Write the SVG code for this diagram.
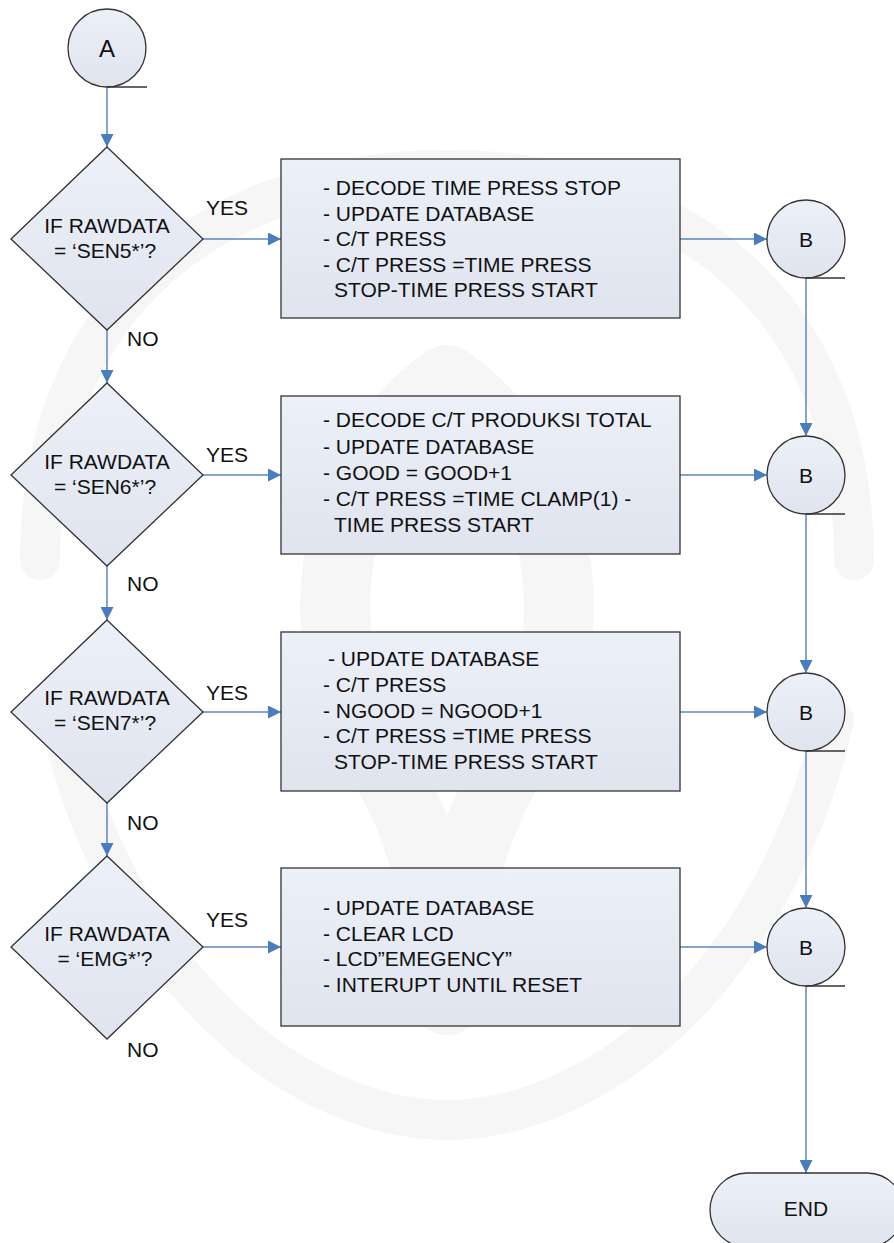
<svg xmlns="http://www.w3.org/2000/svg" width="894" height="1243" viewBox="0 0 894 1243">
  <defs>
    <linearGradient id="fillShape" x1="0" y1="0" x2="0" y2="1">
      <stop offset="0" stop-color="#ebf0f9"/>
      <stop offset="1" stop-color="#dfe4ee"/>
    </linearGradient>
    <marker id="arrowHead" viewBox="0 0 10 10" refX="10" refY="5" markerWidth="13" markerHeight="13" markerUnits="userSpaceOnUse" orient="auto">
      <path d="M0,0 L10,5 L0,10 Z" fill="#4a7cc0"/>
    </marker>
    <style>
      .shape { fill: url(#fillShape); stroke: #333; stroke-width: 1.3; }
      .tail { stroke: #333; stroke-width: 1.3; fill: none; }
      .flow { stroke: #5b87c5; stroke-width: 1.5; fill: none; marker-end: url(#arrowHead); }
      text { font-family: "Liberation Sans", Arial, sans-serif; font-size: 21px; fill: #111; }
      .mid { text-anchor: middle; }
      .big { font-size: 24px; }
      .wm { fill: none; stroke: #f6f6f6; stroke-linecap: round; }
    </style>
  </defs>

  <rect x="0" y="0" width="894" height="1243" fill="#ffffff"/>

  <!-- faint background emblem -->
  <g id="emblem">
    <path class="wm" stroke-width="40" d="M40,560 C40,300 220,170 447,170 C674,170 854,300 854,560"/>
    <path class="wm" stroke-width="40" d="M60,720 C120,980 300,1120 447,1120 C594,1120 774,980 834,720"/>
    <path class="wm" stroke-width="70" d="M447,380 C330,460 300,640 380,760 C420,820 440,900 447,1000"/>
    <path class="wm" stroke-width="70" d="M447,380 C564,460 594,640 514,760 C474,820 454,900 447,1000"/>
  </g>

  <!-- connectors -->
  <g id="connectors">
    <!-- main decision spine -->
    <line class="flow" x1="107" y1="87" x2="107" y2="147"/>
    <line class="flow" x1="107" y1="330" x2="107" y2="383"/>
    <line class="flow" x1="107" y1="566" x2="107" y2="620"/>
    <line class="flow" x1="107" y1="803" x2="107" y2="856"/>
    <!-- YES branches into the process boxes -->
    <line class="flow" x1="203" y1="239" x2="281" y2="239"/>
    <line class="flow" x1="203" y1="475" x2="281" y2="475"/>
    <line class="flow" x1="203" y1="712" x2="281" y2="712"/>
    <line class="flow" x1="203" y1="947" x2="281" y2="947"/>
    <!-- process boxes to connector B -->
    <line class="flow" x1="680" y1="239" x2="767" y2="239"/>
    <line class="flow" x1="680" y1="475" x2="767" y2="475"/>
    <line class="flow" x1="680" y1="712" x2="767" y2="712"/>
    <line class="flow" x1="680" y1="947" x2="767" y2="947"/>
    <!-- B chain down to END -->
    <line class="flow" x1="806" y1="278" x2="806" y2="436"/>
    <line class="flow" x1="806" y1="514" x2="806" y2="673"/>
    <line class="flow" x1="806" y1="751" x2="806" y2="908"/>
    <line class="flow" x1="806" y1="986" x2="806" y2="1173"/>
  </g>

  <!-- branch labels -->
  <g id="labels">
    <text x="206" y="215">YES</text>
    <text x="206" y="462">YES</text>
    <text x="206" y="700">YES</text>
    <text x="206" y="927">YES</text>
    <text x="127" y="346">NO</text>
    <text x="127" y="591">NO</text>
    <text x="127" y="830">NO</text>
    <text x="127" y="1057">NO</text>
  </g>

  <g id="startA">
    <circle class="shape" cx="107" cy="48" r="39"/>
    <line class="tail" x1="107" y1="87" x2="147" y2="87"/>
    <text class="mid big" x="107" y="57">A</text>
  </g>

  <g id="decision1">
    <polygon class="shape" points="107,147 203,239 107,330 11,239"/>
    <text class="mid" x="107" y="233">IF RAWDATA</text>
    <text class="mid" x="105" y="258">= ‘SEN5*’?</text>
  </g>
  <g id="decision2">
    <polygon class="shape" points="107,383 203,475 107,566 11,475"/>
    <text class="mid" x="107" y="469">IF RAWDATA</text>
    <text class="mid" x="105" y="494">= ‘SEN6*’?</text>
  </g>
  <g id="decision3">
    <polygon class="shape" points="107,620 203,712 107,803 11,712"/>
    <text class="mid" x="107" y="705">IF RAWDATA</text>
    <text class="mid" x="105" y="730">= ‘SEN7*’?</text>
  </g>
  <g id="decision4">
    <polygon class="shape" points="107,856 203,947 107,1039 11,947"/>
    <text class="mid" x="107" y="941">IF RAWDATA</text>
    <text class="mid" x="105" y="966">= ‘EMG*’?</text>
  </g>

  <g id="process1">
    <rect class="shape" x="281" y="159" width="399" height="159"/>
    <text x="323" y="195">- DECODE TIME PRESS STOP</text>
    <text x="323" y="220.5">- UPDATE DATABASE</text>
    <text x="323" y="246">- C/T PRESS</text>
    <text x="323" y="271.5">- C/T PRESS =TIME PRESS</text>
    <text x="334" y="297">STOP-TIME PRESS START</text>
  </g>
  <g id="process2">
    <rect class="shape" x="281" y="396" width="399" height="158"/>
    <text x="323" y="427">- DECODE C/T PRODUKSI TOTAL</text>
    <text x="323" y="453.5">- UPDATE DATABASE</text>
    <text x="323" y="480">- GOOD = GOOD+1</text>
    <text x="323" y="506">- C/T PRESS =TIME CLAMP(1) -</text>
    <text x="334" y="532">TIME PRESS START</text>
  </g>
  <g id="process3">
    <rect class="shape" x="281" y="632" width="399" height="159"/>
    <text x="328" y="666">- UPDATE DATABASE</text>
    <text x="323" y="692">- C/T PRESS</text>
    <text x="323" y="717.5">- NGOOD = NGOOD+1</text>
    <text x="323" y="743">- C/T PRESS =TIME PRESS</text>
    <text x="334" y="769">STOP-TIME PRESS START</text>
  </g>
  <g id="process4">
    <rect class="shape" x="281" y="868" width="399" height="158"/>
    <text x="323" y="915">- UPDATE DATABASE</text>
    <text x="323" y="940.5">- CLEAR LCD</text>
    <text x="323" y="966">- LCD”EMEGENCY”</text>
    <text x="323" y="991.5">- INTERUPT UNTIL RESET</text>
  </g>

  <g id="connectorB1">
    <circle class="shape" cx="806" cy="239" r="39"/>
    <line class="tail" x1="806" y1="278" x2="845" y2="278"/>
    <text class="mid" x="806" y="247">B</text>
  </g>
  <g id="connectorB2">
    <circle class="shape" cx="806" cy="475" r="39"/>
    <line class="tail" x1="806" y1="514" x2="845" y2="514"/>
    <text class="mid" x="806" y="483">B</text>
  </g>
  <g id="connectorB3">
    <circle class="shape" cx="806" cy="712" r="39"/>
    <line class="tail" x1="806" y1="751" x2="845" y2="751"/>
    <text class="mid" x="806" y="720">B</text>
  </g>
  <g id="connectorB4">
    <circle class="shape" cx="806" cy="947" r="39"/>
    <line class="tail" x1="806" y1="986" x2="845" y2="986"/>
    <text class="mid" x="806" y="955">B</text>
  </g>

  <g id="end">
    <rect class="shape" x="710" y="1173" width="194" height="74" rx="37" ry="37"/>
    <text class="mid" x="806" y="1216">END</text>
  </g>
</svg>
